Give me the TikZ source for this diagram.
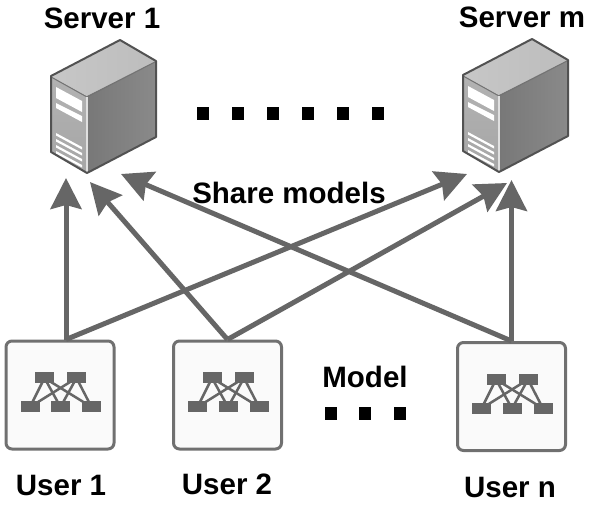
\documentclass[tikz,border=0pt]{standalone}
\usepackage{fontspec}
\setmainfont{Liberation Sans}
\usetikzlibrary{arrows.meta}
\definecolor{linegray}{HTML}{666666}
\definecolor{boxgray}{HTML}{707070}
\tikzset{
  label/.style={font=\fontsize{29.5}{32}\selectfont\bfseries, inner sep=0pt},
  userbox/.style={draw=boxgray, line width=3pt, rounded corners=6pt, fill=black!2, minimum width=108pt, minimum height=108pt, inner sep=0pt},
  link/.style={draw=linegray, line width=5pt, -{Stealth[length=31pt,width=31pt,inset=4pt]}},
  dotmark/.style={fill=black, inner sep=0pt, minimum width=12pt, minimum height=13pt},
  pics/network/.style={code={
    \foreach \a in {-15.5,16.5}{
      \foreach \b in {-30,0.5,31.5}{
        \draw[linegray, line width=2.5pt] (\a,-17) -- (\b,12);
      }
      \fill[linegray] (\a-9.5,-23) rectangle (\a+9.5,-12);
    }
    \foreach \b in {-30,0.5,31.5}{
      \fill[linegray] (\b-9.5,6) rectangle (\b+9.5,17);
    }
  }},
  pics/tower/.style={code={
    \shade[left color=black!22, right color=black!26] (0,36) -- (69,-0) -- (105,21) -- (36,56) -- cycle;
    \shade[top color=black!30, bottom color=black!35] (0,36) -- (36,56) -- (36,133) -- (0,112) -- cycle;
    \shade[left color=black!53, right color=black!46] (36,56) -- (105,21) -- (105,97) -- (36,133) -- cycle;
    \fill[white] (5,47) -- (31,61) -- (31,72) -- (5,58) -- cycle;
    \fill[white] (5,63) -- (31,76) -- (31,82) -- (5,68) -- cycle;
    \foreach \k in {0,6,12,18}{
      \fill[white] (5,93+\k) -- (31,107+\k) -- (31,109.5+\k) -- (5,95.5+\k) -- cycle;
    }
    \draw[black!55!white, line width=1pt] (1,37.5) -- (36,57) -- (104,22);
    \draw[black!12, line width=1.2pt] (36,57) -- (36,132);
    \draw[black!68, line width=2pt, line join=round] (0,36) -- (69,0) -- (105,21) -- (105,97) -- (36,133) -- (0,112) -- cycle;
  }}
}
\begin{document}
\begin{tikzpicture}[x=1pt, y=-1pt]
\useasboundingbox (0,0) rectangle (589,504);

% servers
\pic at (51,40) {tower};
\pic at (463,39) {tower};

% users
\node[userbox] (user1) at (60,395) {};
\node[userbox] (user2) at (227.5,395) {};
\node[userbox] (usern) at (511.5,396.5) {};
\pic at (user1) {network};
\pic at (user2) {network};
\pic at (usern) {network};

% arrow ends
\coordinate (s1a) at (66,178);
\coordinate (s1b) at (90,182);
\coordinate (s1c) at (121,174);
\coordinate (sma) at (467,174);
\coordinate (smb) at (507,183);
\coordinate (smc) at (511.5,180);

\draw[link] ([xshift=6pt]user1.north) -- (s1a);
\draw[link] ([xshift=6pt]user1.north) -- (sma);
\draw[link] (user2.north) -- (s1b);
\draw[link] (user2.north) -- (smb);
\draw[link] (usern.north) -- (s1c);
\draw[link] (usern.north) -- (smc);

% dots
\foreach \x [count=\i] in {203,238,273,308,343,378}
  \node[dotmark] (top\i) at (\x,113.5) {};
\foreach \x [count=\i] in {330.5,365,399.5}
  \node[dotmark] (low\i) at (\x,413.5) {};

% labels
\node[label] (s1label) at (102,18) {Server 1};
\node[label] (smlabel) at (522,17) {Server m};
\node[label] (share) at (289,193) {Share models};
\node[label] (model) at (365,377) {Model};
\node[label] (u1label) at (61,485) {User 1};
\node[label] (u2label) at (227,484) {User 2};
\node[label] (unlabel) at (510,487) {User n};
\end{tikzpicture}
\end{document}
